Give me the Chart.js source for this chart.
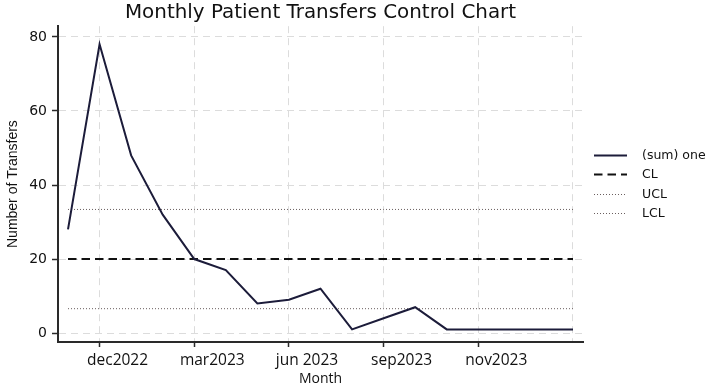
<!DOCTYPE html>
<html>
<head>
<meta charset="utf-8">
<script src="https://cdn.jsdelivr.net/npm/chart.js@4.4.1/dist/chart.umd.min.js"></script>
<style>
    html, body { margin: 0; padding: 0; background: #fff; }
    #wrap { width: 716px; height: 387px; }
</style>
</head>
<body>
<div id="wrap"><canvas id="chart"></canvas></div>
<script>
// period number of each observation (x position)
const periods = [0, 1, 2, 3, 4, 5, 6, 7, 8, 9, 10, 11, 12, 13, 14, 15, 16];
// monthly transfers, (sum) one
const transfers = [28, 78, 48, 32, 20, 17, 8, 9, 12, 1, 4, 7, 1, 1, 1, 1, 1];

// control limits
const clValue = 20;
const uclValue = 33.4;
const lclValue = 6.6;

// x axis ticks
const xTickPos = [1, 4, 7, 10, 13, 16];
const xTickText = ['dec2022', 'mar2023', 'jun 2023', 'sep2023', 'nov2023', ''];
// y axis ticks
const yTicks = [0, 20, 40, 60, 80];

const ARIAL = "'Liberation Sans', Arial, sans-serif";
const WIDE = "'DejaVu Sans', Verdana, sans-serif";
const SEGOE = "'Open Sans', 'Segoe UI', sans-serif";
const gridColor = '#dcdcdc';
const axisColor = '#2a2a2a';
const textColor = '#111';

const series = periods.map((p, i) => ({ x: p, y: transfers[i] }));
const flat = v => periods.map(p => ({ x: p, y: v }));

// legend drawn to the right of the plot, like the Stata one
const sideLegend = {
    id: 'sideLegend',
    afterDraw(chart) {
        const ctx = chart.ctx;
        const x0 = chart.chartArea.right + 11;
        const x1 = x0 + 33;
        const tx = x1 + 15;
        const y0 = 154.5;
        const step = 19.6;
        ctx.save();
        ctx.font = '12.5px ' + WIDE;
        ctx.textBaseline = 'middle';
        ctx.fillStyle = textColor;
        chart.data.datasets.forEach((ds, i) => {
            const y = Math.round(y0 + i * step) + 0.5;
            ctx.beginPath();
            ctx.setLineDash(ds.borderDash || []);
            ctx.lineWidth = ds.borderWidth;
            ctx.strokeStyle = ds.borderColor;
            ctx.moveTo(x0, y);
            ctx.lineTo(x1, y);
            ctx.stroke();
            ctx.setLineDash([]);
            ctx.fillText(ds.label, tx, y);
        });
        ctx.restore();
    }
};

new Chart(document.getElementById('chart'), {
    type: 'line',
    data: {
        datasets: [
            {
                label: '(sum) one',
                data: series,
                borderColor: '#1c1c3a',
                backgroundColor: 'transparent',
                borderWidth: 2,
                pointRadius: 0
            },
            {
                label: 'CL',
                data: flat(clValue),
                borderColor: '#111',
                backgroundColor: 'transparent',
                borderWidth: 2,
                borderDash: [8.5, 5],
                pointRadius: 0
            },
            {
                label: 'UCL',
                data: flat(uclValue),
                borderColor: '#6a5f5f',
                backgroundColor: 'transparent',
                borderWidth: 1,
                borderDash: [1, 2],
                pointRadius: 0
            },
            {
                label: 'LCL',
                data: flat(lclValue),
                borderColor: '#6a5f5f',
                backgroundColor: 'transparent',
                borderWidth: 1,
                borderDash: [1, 2],
                pointRadius: 0
            }
        ]
    },
    plugins: [sideLegend],
    options: {
        responsive: true,
        maintainAspectRatio: false,
        animation: false,
        layout: { padding: { left: 0, right: 133, top: 0, bottom: 0 } },
        plugins: {
            title: {
                display: true,
                text: 'Monthly Patient Transfers Control Chart',
                fullSize: false,
                color: textColor,
                font: { family: WIDE, size: 19.9, weight: 'normal' },
                padding: { top: 1, bottom: 1.3 }
            },
            legend: { display: false },
            tooltip: { enabled: false }
        },
        scales: {
            x: {
                type: 'linear',
                min: -0.317,
                max: 16.317,
                afterBuildTicks: axis => {
                    axis.ticks = xTickPos.map(v => ({ value: v }));
                },
                afterFit: axis => { axis.height = 45; },
                ticks: {
                    autoSkip: false,
                    maxRotation: 0,
                    padding: 4,
                    labelOffset: 18,
                    color: textColor,
                    font: { family: SEGOE, size: 15.5 },
                    callback: v => xTickText[xTickPos.indexOf(v)]
                },
                grid: {
                    color: gridColor,
                    lineWidth: 1,
                    tickLength: 5,
                    tickColor: ctx => (ctx.tick && ctx.tick.value === 16) ? 'rgba(0,0,0,0)' : axisColor,
                    tickWidth: 1.5
                },
                border: { color: axisColor, width: 2, dash: [7, 5] },
                title: {
                    display: true,
                    text: 'Month',
                    color: textColor,
                    font: { family: SEGOE, size: 14 },
                    padding: { top: 1.6, bottom: 0 }
                }
            },
            y: {
                min: -2.4,
                max: 82.9,
                afterBuildTicks: axis => {
                    axis.ticks = yTicks.map(v => ({ value: v }));
                },
                afterFit: axis => { axis.width = 58; },
                ticks: {
                    padding: 5,
                    color: textColor,
                    font: { family: WIDE, size: 14 }
                },
                grid: {
                    color: gridColor,
                    lineWidth: 1,
                    tickLength: 6,
                    tickColor: axisColor,
                    tickWidth: 1.5
                },
                border: { color: axisColor, width: 2, dash: [7, 5] },
                title: {
                    display: true,
                    text: 'Number of Transfers',
                    color: textColor,
                    font: { family: ARIAL, size: 14 },
                    padding: { top: 4.6, bottom: 0 }
                }
            }
        }
    }
});
</script>
</body>
</html>
